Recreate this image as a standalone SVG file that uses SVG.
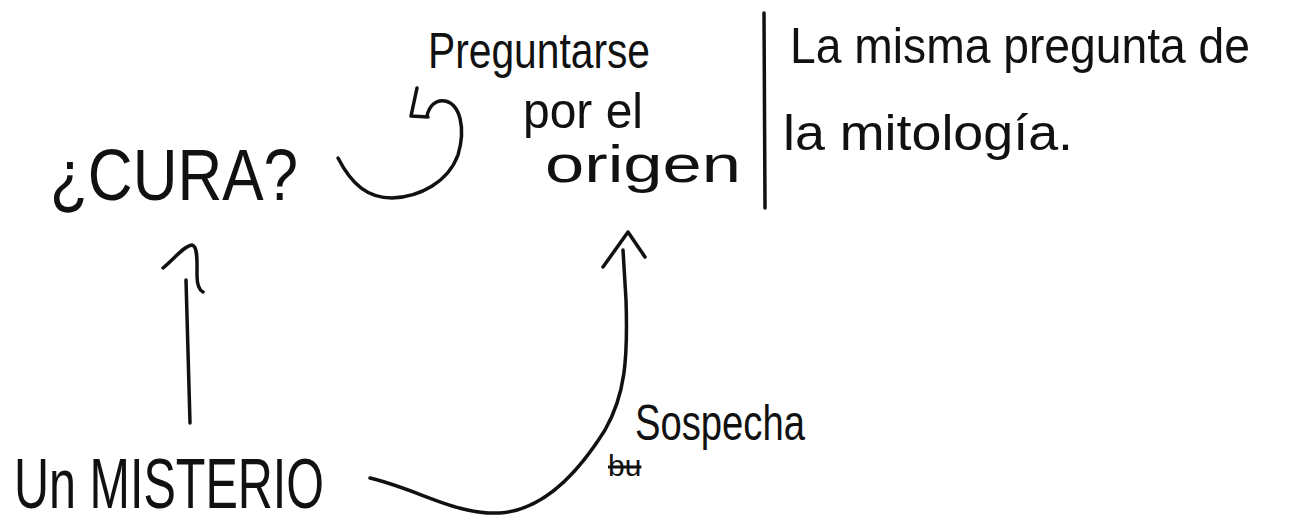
<svg xmlns="http://www.w3.org/2000/svg" width="1312" height="524" viewBox="0 0 1312 524">
<style>
.t{font-family:"Liberation Sans","DejaVu Sans",sans-serif;fill:#111;}
.c{fill:none;stroke:#111;stroke-width:3.5;stroke-linecap:round;stroke-linejoin:round;}
</style>
<rect width="1312" height="524" fill="#fff"/>
<g id="connectors">
  <path class="c" d="M338,158 C352,185 368,198 392,198 C420,197 448,182 458,155 C466,128 460,104 445,101 C436,99 429,106 427,116"/>
  <path class="c" d="M417,88 L411,116 L428,117"/>
  <path class="c" d="M190,423 L186,280"/>
  <path class="c" d="M163,268 C175,258 184,246 192,245 C198,246 197,262 197,275 C197,284 199,290 203,292"/>
  <path class="c" d="M370,478 C420,490 455,515 500,513 C545,510 580,470 605,430 C625,395 628,360 626,300 L623,250"/>
  <path class="c" d="M603,267 L628,232 L645,257"/>
  <path class="c" d="M764,13 L765,208"/>
</g>
<g id="node-cura">
  <text class="t" x="50" y="200" font-size="72" textLength="248" lengthAdjust="spacingAndGlyphs">¿CURA?</text>
</g>
<g id="node-preguntarse">
  <text class="t" x="428" y="68" font-size="50" textLength="222" lengthAdjust="spacingAndGlyphs">Preguntarse</text>
  <text class="t" x="523" y="128" font-size="50" textLength="120" lengthAdjust="spacingAndGlyphs">por el</text>
  <text class="t" x="545" y="182" font-size="52" textLength="196" lengthAdjust="spacingAndGlyphs">origen</text>
</g>
<g id="node-mitologia">
  <text class="t" x="790" y="63" font-size="50" textLength="460" lengthAdjust="spacingAndGlyphs">La misma pregunta de</text>
  <text class="t" x="783" y="150" font-size="50" textLength="290" lengthAdjust="spacingAndGlyphs">la mitología.</text>
</g>
<g id="node-misterio">
  <text class="t" x="14" y="508" font-size="70" textLength="310" lengthAdjust="spacingAndGlyphs">Un MISTERIO</text>
</g>
<g id="label-sospecha">
  <text class="t" x="635" y="440" font-size="50" textLength="170" lengthAdjust="spacingAndGlyphs">Sospecha</text>
  <text class="t" x="608" y="476" font-size="30" style="text-decoration:line-through">bu</text>
</g>
</svg>
